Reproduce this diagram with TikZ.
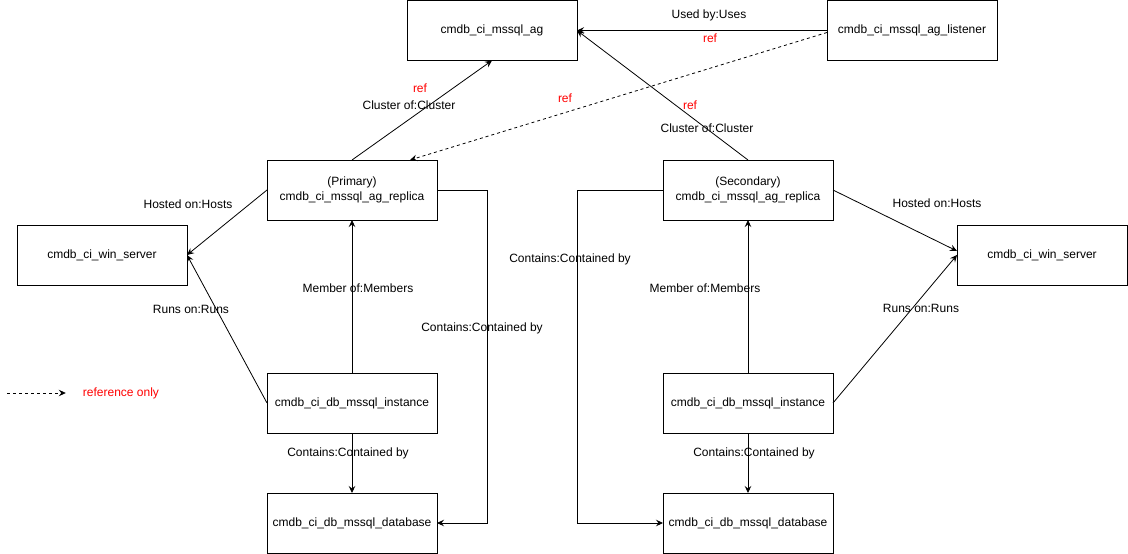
\documentclass[tikz,border=0pt]{standalone}
\usepackage{fontspec}
\setmainfont{Liberation Sans}
\usetikzlibrary{arrows.meta,positioning}
\definecolor{refred}{HTML}{FF0000}

\begin{document}
\begin{tikzpicture}[x=1pt,y=-1pt,font=\fontsize{12}{15}\selectfont,
  ci/.style={draw,line width=0.8pt,minimum width=170pt,minimum height=60pt,align=center,inner sep=2pt,outer sep=0pt},
  lbl/.style={inner sep=1pt},
  reflbl/.style={inner sep=1pt,text=refred},
  ar/.style={-{Stealth[length=7pt,width=6.5pt,inset=2.5pt]},line width=0.8pt},
  refar/.style={ar,dash pattern=on 3pt off 3pt}]
  \useasboundingbox (0,0) rectangle (1128,554);
  % availability group and listener
  \node[ci] (ag) at (492,30.5) {cmdb\_ci\_mssql\_ag};
  \node[ci] (lsn) at (912,30.5) {cmdb\_ci\_mssql\_ag\_listener};
  % primary side
  \node[ci] (rep-p) at (352,190) {(Primary)\\cmdb\_ci\_mssql\_ag\_replica};
  \node[ci,below=153pt of rep-p] (inst-p) {cmdb\_ci\_db\_mssql\_instance};
  \node[ci,below=60pt of inst-p] (db-p) {cmdb\_ci\_db\_mssql\_database};
  \node[ci] (srv-p) at (102,255) {cmdb\_ci\_win\_server};
  % secondary side
  \node[ci] (rep-s) at (748,190) {(Secondary)\\cmdb\_ci\_mssql\_ag\_replica};
  \node[ci,below=153pt of rep-s] (inst-s) {cmdb\_ci\_db\_mssql\_instance};
  \node[ci,below=60pt of inst-s] (db-s) {cmdb\_ci\_db\_mssql\_database};
  \node[ci] (srv-s) at (1042,255) {cmdb\_ci\_win\_server};

  % edges to the AG
  \draw[ar] (rep-p.north) -- (ag.south);
  \node[reflbl] (r1) at (420,88) {ref};
  \node[lbl] (c1) at (409,105) {Cluster of:Cluster};
  \draw[ar] (rep-s.north) -- (ag.east);
  \node[reflbl] (r2) at (690,105) {ref};
  \node[lbl] (c2) at (707,128) {Cluster of:Cluster};
  \draw[ar] (lsn.west) -- (ag.east);
  \node[lbl] (u1) at (709,15) {Used by:Uses};
  \node[reflbl] (r3) at (710,38) {ref};
  \draw[refar] ([yshift=-2pt]lsn.west) -- ([xshift=58pt]rep-p.north);
  \node[reflbl] (r4) at (565,98) {ref};

  % replica, instance, database, server
  \foreach \s in {p,s} {
    \draw[ar] (inst-\s.north) -- (rep-\s.south);
    \draw[ar] (inst-\s.south) -- (db-\s.north);
  }
  \draw[ar] (rep-p.west) -- (srv-p.east);
  \draw[ar] (inst-p.west) -- (srv-p.east);
  \draw[ar] (rep-p.east) -- ++(50,0) |- (db-p.east);
  \draw[ar] (rep-s.east) -- ([yshift=4pt]srv-s.west);
  \draw[ar] (inst-s.east) -- (srv-s.west);
  \draw[ar] (rep-s.west) -- ++(-86,0) |- (db-s.west);
  \node[lbl] (h1) at (188,204) {Hosted on:Hosts};
  \node[lbl] (n1) at (191,309) {Runs on:Runs};
  \node[lbl] (m1) at (358,288) {Member of:Members};
  \node[lbl] (k1) at (348,453) {Contains:Contained by};
  \node[lbl] (k2) at (482,328) {Contains:Contained by};
  \node[lbl] (k3) at (570,259) {Contains:Contained by};
  \node[lbl] (h2) at (937,203) {Hosted on:Hosts};
  \node[lbl] (n2) at (921,308) {Runs on:Runs};
  \node[lbl] (m2) at (705,288) {Member of:Members};
  \node[lbl] (k4) at (754,453) {Contains:Contained by};

  % legend
  \coordinate (lg-a) at (7,393);
  \node[reflbl] (lg) at (121,393) {reference only};
  \draw[refar] (lg-a) -- ([xshift=-16pt]lg.west);
\end{tikzpicture}
\end{document}
